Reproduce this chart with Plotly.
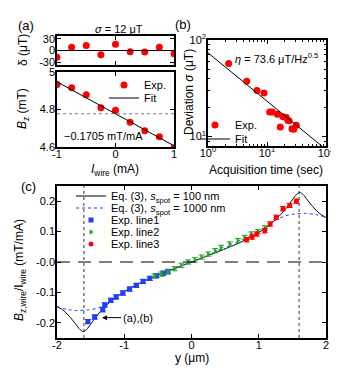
import plotly.graph_objects as go

W, H = 339, 370
FONT = "Arial, 'Liberation Sans', sans-serif"
RED, BLUE, GREEN = "#ff0000", "#1f3dff", "#2aa52a"

# ── (a) field vs wire current ─────────────────────────────────────────────────
i_wire = [-1.0, -0.75, -0.5, -0.25, 0.0, 0.25, 0.5, 0.75, 1.0]
delta_ut = [-17, 8, 13, -11, 16, -3, -4, 8, -8]
bz_mt = [4.934, 4.916, 4.879, 4.810, 4.796, 4.732, 4.687, 4.655, 4.596]
fit_slope = -0.1705
fit_icpt = 4.777
i_fit = [-1.0, 1.0]

# ── (b) deviation vs acquisition time ─────────────────────────────────────────
acq_time = [2.24, 4.53, 6.77, 8.9, 11.1, 12.3, 15.0, 18.7, 21.2, 22.7, 16.8, 23.6, 26.5, 28.4, 31.4]
sigma_ut = [57.0, 37.5, 30.0, 28.2, 18.0, 18.0, 17.0, 16.1, 15.8, 14.7, 12.6, 14.6, 12.1, 11.9, 13.1]
eta = 73.6
t_fit = [1.0, 100.0]

# ── (c) normalised field profile ──────────────────────────────────────────────
y_line1 = [-1.54, -1.44, -1.32, -1.29, -1.20, -1.12, -1.02, -0.92, -0.82, -0.72, -0.62, -0.52, -0.42, -0.35]
b_line1 = [-0.196, -0.181, -0.157, -0.141, -0.126, -0.115, -0.102, -0.089, -0.077, -0.064, -0.054, -0.045, -0.037, -0.031]
y_line2 = [-0.55, -0.45, -0.35, -0.25, -0.15, -0.05, 0.05, 0.15, 0.25, 0.35, 0.44, 0.57, 0.69, 0.79, 0.89, 0.99, 1.09]
b_line2 = [-0.046, -0.040, -0.033, -0.022, -0.011, 0.000, 0.007, 0.016, 0.026, 0.037, 0.048, 0.059, 0.070, 0.081, 0.092, 0.100, 0.112]
y_line3 = [0.82, 0.90, 0.97, 1.09, 1.17, 1.26, 1.36, 1.46, 1.56]
b_line3 = [0.073, 0.082, 0.092, 0.103, 0.125, 0.147, 0.175, 0.186, 0.200]

y_eq100 = [-2.0, -1.9, -1.8, -1.72, -1.66, -1.61, -1.56, -1.5, -1.42, -1.3, -1.15, -1.0, -0.7, -0.35, 0.0,
           0.35, 0.7, 1.0, 1.15, 1.3, 1.42, 1.5, 1.56, 1.61, 1.66, 1.72, 1.8, 1.9, 2.0]
b_eq100 = [-0.146, -0.160, -0.183, -0.205, -0.222, -0.229, -0.222, -0.205, -0.180, -0.150, -0.120, -0.097, -0.062, -0.030, 0.0,
           0.030, 0.062, 0.097, 0.120, 0.150, 0.180, 0.205, 0.222, 0.229, 0.222, 0.205, 0.183, 0.160, 0.146]
y_eq1000 = [-2.0, -1.85, -1.7, -1.55, -1.4, -1.27, -1.15, -1.0, -0.7, -0.35, 0.0,
            0.35, 0.7, 1.0, 1.15, 1.27, 1.4, 1.55, 1.7, 1.85, 2.0]
b_eq1000 = [-0.147, -0.156, -0.160, -0.158, -0.152, -0.140, -0.122, -0.097, -0.062, -0.030, 0.0,
            0.030, 0.062, 0.097, 0.122, 0.140, 0.152, 0.158, 0.160, 0.156, 0.147]
wire_edge = 1.6


def px_x(p):
    return p / W


def px_y(p):
    return 1 - p / H


def frame(**kw):
    d = dict(showline=True, linecolor="black", linewidth=1.5, mirror="allticks",
             ticks="inside", ticklen=4, tickwidth=1, tickcolor="black", automargin=False,
             showgrid=False, zeroline=False, tickfont=dict(size=11, color="black"))
    d.update(kw)
    return d


def xframe(**kw):
    return frame(ticklabelstandoff=-4, **kw)


def yframe(**kw):
    return frame(ticklabelstandoff=-2, **kw)


def leg(x, y):
    # one legend per row so rows sit as tight as in the original
    return dict(x=px_x(x), y=px_y(y), xanchor="left", yanchor="middle",
                bgcolor="rgba(0,0,0,0)", borderwidth=0, font=dict(size=11, color="black"))


fig = go.Figure()

# (a) top: residuals
fig.add_trace(go.Scatter(x=i_wire, y=delta_ut, mode="markers", xaxis="x", yaxis="y",
                         marker=dict(color=RED, size=7), showlegend=False))
# (a) bottom
fig.add_trace(go.Scatter(x=i_wire, y=bz_mt, mode="markers", xaxis="x2", yaxis="y2",
                         marker=dict(color=RED, size=7), name="Exp.", legend="legend2"))
fig.add_trace(go.Scatter(x=i_fit, y=[fit_icpt + fit_slope * v for v in i_fit], mode="lines",
                         xaxis="x2", yaxis="y2", line=dict(color="black", width=1),
                         name="Fit", legend="legend3"))
# (b)
fig.add_trace(go.Scatter(x=acq_time, y=sigma_ut, mode="markers", xaxis="x3", yaxis="y3",
                         marker=dict(color=RED, size=7), name="Exp.", legend="legend4"))
fig.add_trace(go.Scatter(x=t_fit, y=[eta / t ** 0.5 for t in t_fit], mode="lines",
                         xaxis="x3", yaxis="y3", line=dict(color="black", width=1),
                         name="Fit", legend="legend5"))
# (c)
fig.add_trace(go.Scatter(x=y_eq100, y=b_eq100, mode="lines", xaxis="x4", yaxis="y4",
                         line=dict(color="black", width=1, shape="spline", smoothing=0.6),
                         name="Eq. (3), <i>s</i><sub>spot</sub> = 100 nm", legend="legend"))
fig.add_trace(go.Scatter(x=y_eq1000, y=b_eq1000, mode="lines", xaxis="x4", yaxis="y4",
                         line=dict(color=BLUE, width=1, dash="dot", shape="spline", smoothing=0.6),
                         name="Eq. (3), <i>s</i><sub>spot</sub> = 1000 nm", legend="legend6"))
for xs, ys, col, sym, nm, lg in [
    (y_line1, b_line1, BLUE, "square", "Exp. line1", "legend7"),
    (y_line2, b_line2, GREEN, "triangle-right", "Exp. line2", "legend8"),
    (y_line3, b_line3, RED, "circle", "Exp. line3", "legend9"),
]:
    fig.add_trace(go.Scatter(
        x=xs, y=ys, mode="markers", xaxis="x4", yaxis="y4",
        marker=dict(color=col, size=5, symbol=sym),
        error_y=dict(type="constant", value=0.007, color=col, thickness=1, width=3),
        name=nm, legend=lg,
    ))

# reference lines
fig.add_shape(type="line", xref="x domain", x0=0, x1=1, yref="y", y0=0, y1=0,
              line=dict(color="black", width=1))
fig.add_shape(type="line", xref="x2 domain", x0=0, x1=1, yref="y2", y0=fit_icpt, y1=fit_icpt,
              line=dict(color="#777777", width=1, dash="dot"))
fig.add_shape(type="line", xref="x4 domain", x0=0, x1=1, yref="y4", y0=0, y1=0,
              line=dict(color="black", width=1, dash="13px,8px"))
for xv in (-wire_edge, wire_edge):
    fig.add_shape(type="line", xref="x4", x0=xv, x1=xv, yref="y4 domain", y0=0, y1=1,
                  line=dict(color="#333333", width=1, dash="dot"))

ax_a = [px_x(49), px_x(166)]
fig.update_layout(
    width=W, height=H, margin=dict(l=0, r=0, t=0, b=0),
    paper_bgcolor="white", plot_bgcolor="white",
    font=dict(family=FONT, size=11, color="black"),
    xaxis=xframe(domain=ax_a, anchor="y", range=[-1, 1], tickvals=[-1, 0, 1], showticklabels=False),
    yaxis=yframe(domain=[px_y(57), px_y(28)], anchor="x", range=[-37, 37],
                 tickvals=[-30, 0, 30], ticktext=["-30", "0", "30"]),
    xaxis2=xframe(domain=ax_a, anchor="y2", range=[-1, 1], tickvals=[-1, 0, 1],
                  ticktext=["-1", "0", "1"]),
    yaxis2=yframe(domain=[px_y(139), px_y(64)], anchor="x2", range=[4.6, 5.0],
                  tickvals=[4.6, 4.8, 5.0], ticktext=["4.6", "4.8", "5"]),
    xaxis3=xframe(domain=[px_x(200), px_x(318)], anchor="y3", type="log", range=[0, 2],
                  tickvals=[1, 10, 100], ticktext=["10<sup>0</sup>", "10<sup>1</sup>", "10<sup>2</sup>"],
                  minor=dict(ticks="inside", ticklen=2, tickcolor="black",
                             tickvals=[2, 3, 4, 5, 6, 7, 8, 9, 20, 30, 40, 50, 60, 70, 80, 90])),
    yaxis3=yframe(domain=[px_y(138), px_y(32)], anchor="x3", type="log", range=[0.903, 2],
                  tickvals=[10, 100], ticktext=["10<sup>1</sup>", "10<sup>2</sup>"],
                  minor=dict(ticks="inside", ticklen=2, tickcolor="black",
                             tickvals=[8, 9, 20, 30, 40, 50, 60, 70, 80, 90])),
    xaxis4=xframe(domain=[px_x(49), px_x(318)], anchor="y4", range=[-2, 2],
                  tickvals=[-2, -1, 0, 1, 2], ticktext=["-2", "-1", "0", "1", "2"]),
    yaxis4=yframe(domain=[px_y(330), px_y(178)], anchor="x4", range=[-0.25, 0.25],
                  tickvals=[-0.2, -0.1, 0, 0.1, 0.2], ticktext=["-0.2", "-0.1", "-0.0", "0.1", "0.2"]),
    legend=leg(63, 188), legend6=leg(63, 200), legend7=leg(63, 212),
    legend8=leg(63, 224), legend9=leg(63, 236),
    legend2=leg(96, 77), legend3=leg(96, 90),
    legend4=leg(187, 117), legend5=leg(187, 131),
)

ann = [
    dict(x=18, y=18, text="(a)", size=13),
    dict(x=175, y=17, text="(b)", size=13),
    dict(x=20, y=179, text="(c)", size=13),
    dict(x=111, y=21, text="<i>σ</i> = 12 μT", size=11),
    dict(x=95, y=128, text="−0.1705 mT/mA", size=11),
    dict(x=268, y=50, text="<i>η</i> = 73.6 μT/Hz<sup>0.5</sup>", size=11),
    dict(x=15, y=42, text="δ (μT)", size=12, angle=-90),
    dict(x=15, y=101, text="<i>B</i><sub>z</sub> (mT)", size=12, angle=-90),
    dict(x=107, y=162, text="<i>I</i><sub>wire</sub> (mA)", size=12),
    dict(x=181, y=84, text="Deviation <i>σ</i> (μT)", size=12, angle=-90),
    dict(x=258, y=162, text="Acquisition time (sec)", size=12),
    dict(x=184, y=350, text="y (μm)", size=12),
    dict(x=12, y=262, text="<i>B</i><sub>z,wire</sub>/I<sub>wire</sub> (mT/mA)", size=12, angle=-90),
]
for a in ann:
    fig.add_annotation(x=px_x(a["x"]), y=px_y(a["y"]), xref="paper", yref="paper",
                       text=a["text"], showarrow=False, xanchor="center", yanchor="middle",
                       textangle=a.get("angle", 0), font=dict(size=a["size"], color="black"))

fig.add_annotation(x=-1.33, y=-0.183, xref="x4", yref="y4", ax=-0.80, ay=-0.183, axref="x4", ayref="y4",
                   text="(a),(b)", showarrow=True, arrowhead=2, arrowsize=1, arrowwidth=1,
                   arrowcolor="black", font=dict(size=11, color="black"))

fig.write_html("out.html")
